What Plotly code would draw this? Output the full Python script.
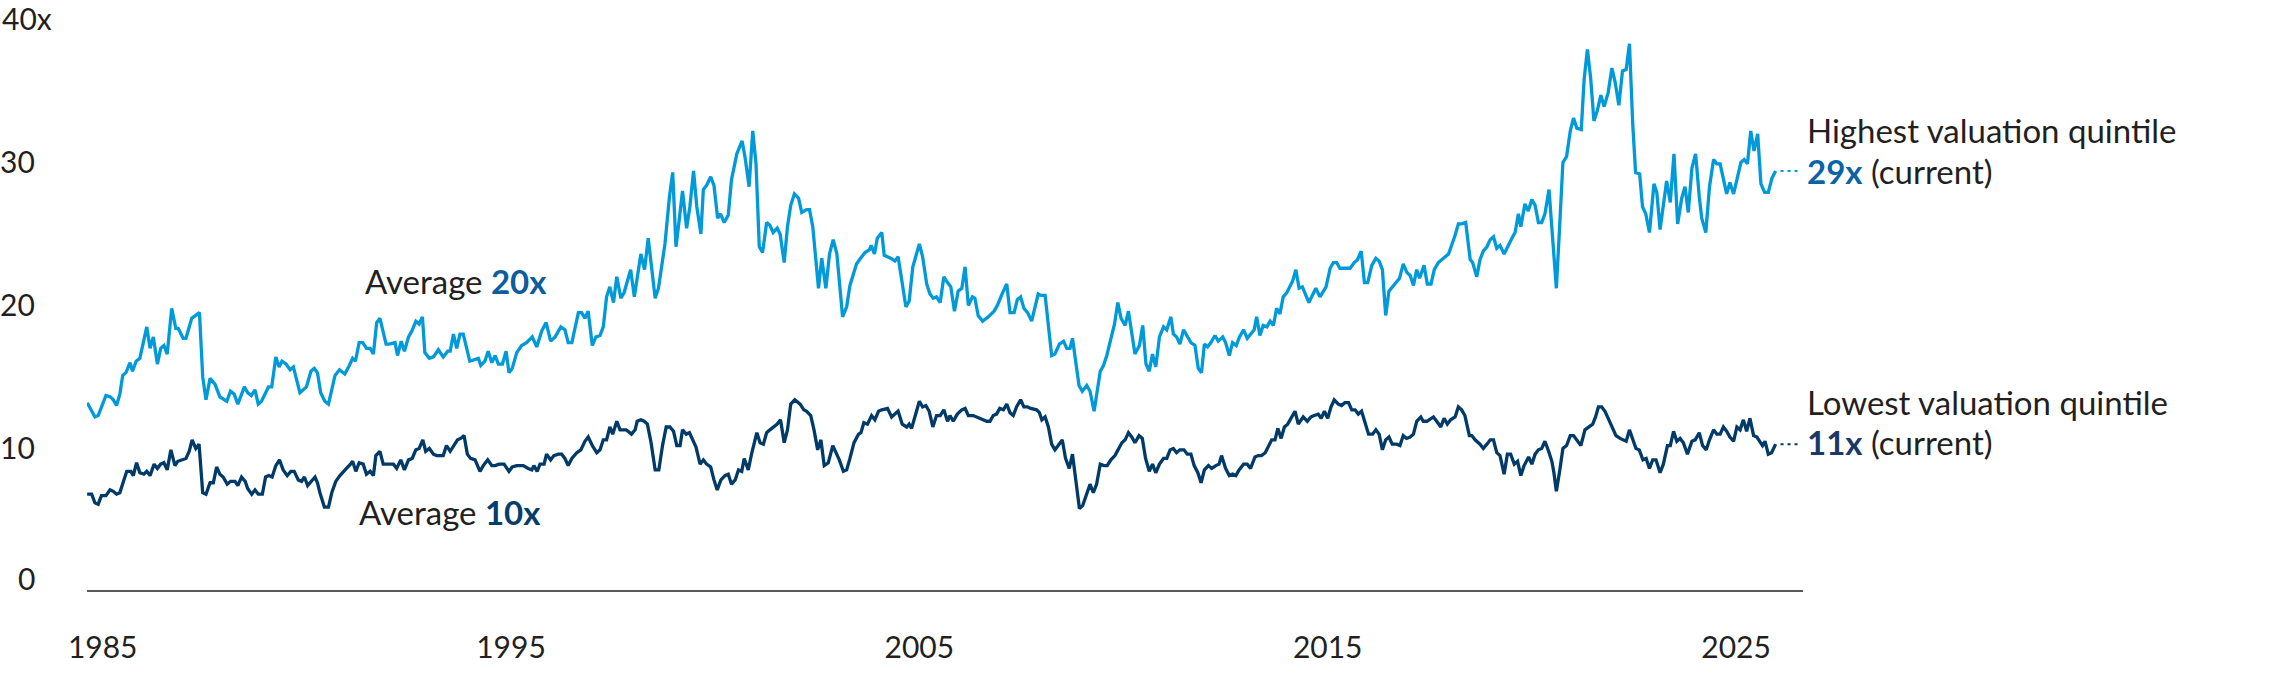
import plotly.graph_objects as go

# price/earnings of the highest valuation quintile (decimal years)
high_years = [
    1984.62, 1984.81, 1984.89, 1985.08, 1985.19, 1985.26, 1985.34, 1985.42, 1985.49, 1985.57, 1985.67, 1985.73, 1985.82, 1985.91,
    1986.08, 1986.16, 1986.24, 1986.34, 1986.42, 1986.50, 1986.58, 1986.69, 1986.79, 1986.85, 1986.97,
    1987.04, 1987.18, 1987.37, 1987.45, 1987.53, 1987.63, 1987.75, 1987.87,
    1988.04, 1988.13, 1988.22, 1988.31, 1988.47, 1988.55, 1988.64, 1988.73, 1988.81, 1988.89,
    1989.06, 1989.14, 1989.24, 1989.32, 1989.39, 1989.49, 1989.59, 1989.67, 1989.83, 1989.99,
    1990.10, 1990.18, 1990.26, 1990.34, 1990.44, 1990.53, 1990.69, 1990.80, 1990.93,
    1991.04, 1991.12, 1991.19, 1991.28, 1991.37, 1991.46, 1991.55, 1991.63, 1991.71, 1991.79, 1991.94,
    1992.02, 1992.16, 1992.22, 1992.31, 1992.39, 1992.49, 1992.57, 1992.67, 1992.75, 1992.83, 1992.89,
    1993.00, 1993.10, 1993.22, 1993.34, 1993.45, 1993.51, 1993.59, 1993.67, 1993.75, 1993.83, 1993.99,
    1994.12, 1994.20, 1994.26, 1994.36, 1994.44, 1994.53, 1994.61, 1994.69, 1994.79, 1994.88, 1994.95,
    1995.03, 1995.14, 1995.26, 1995.38, 1995.52, 1995.63, 1995.75, 1995.86, 1995.97,
    1996.08, 1996.22, 1996.32, 1996.40, 1996.49, 1996.65, 1996.73, 1996.81, 1996.89, 1996.99,
    1997.08, 1997.18, 1997.26, 1997.34, 1997.42, 1997.51, 1997.59, 1997.69, 1997.77, 1997.87, 1997.93,
    1998.02, 1998.10, 1998.18, 1998.27, 1998.36, 1998.53, 1998.61, 1998.77, 1998.88, 1998.96,
    1999.04, 1999.12, 1999.20, 1999.30, 1999.38, 1999.47, 1999.55, 1999.65, 1999.71, 1999.79, 1999.89, 1999.97,
    2000.06, 2000.13, 2000.22, 2000.32, 2000.40, 2000.53, 2000.61, 2000.66, 2000.74, 2000.83, 2000.92,
    2001.00, 2001.08, 2001.16, 2001.26, 2001.34, 2001.42, 2001.52, 2001.59, 2001.69, 2001.77, 2001.85, 2001.94,
    2002.04, 2002.12, 2002.24, 2002.31, 2002.39, 2002.53, 2002.61, 2002.71, 2002.80, 2002.89, 2002.98,
    2003.12, 2003.22, 2003.30, 2003.40, 2003.46, 2003.56, 2003.67, 2003.78, 2003.82, 2003.90, 2003.97,
    2004.08, 2004.14, 2004.30, 2004.40, 2004.48, 2004.67, 2004.75, 2004.84,
    2005.00, 2005.08, 2005.18, 2005.26, 2005.34, 2005.42, 2005.51, 2005.60, 2005.69, 2005.77, 2005.86, 2005.95,
    2006.04, 2006.12, 2006.20, 2006.30, 2006.36, 2006.44, 2006.55, 2006.69, 2006.83, 2006.91,
    2007.04, 2007.14, 2007.22, 2007.32, 2007.40, 2007.48, 2007.56, 2007.65, 2007.75, 2007.91, 2007.98,
    2008.08, 2008.24, 2008.32, 2008.43, 2008.53, 2008.61, 2008.69, 2008.75, 2008.91, 2008.99,
    2009.10, 2009.18, 2009.28, 2009.43, 2009.51, 2009.59, 2009.78, 2009.86, 2009.94,
    2010.04, 2010.12, 2010.28, 2010.39, 2010.47, 2010.55, 2010.63, 2010.71, 2010.79, 2010.88, 2010.98,
    2011.06, 2011.16, 2011.22, 2011.30, 2011.38, 2011.47, 2011.56, 2011.65, 2011.75, 2011.83, 2011.91, 2011.98,
    2012.06, 2012.14, 2012.24, 2012.32, 2012.43, 2012.50, 2012.59, 2012.67, 2012.76, 2012.84, 2012.94,
    2013.03, 2013.20, 2013.26, 2013.34, 2013.42, 2013.51, 2013.59, 2013.67, 2013.75, 2013.83, 2013.91, 2014.00,
    2014.14, 2014.22, 2014.30, 2014.38, 2014.49, 2014.54, 2014.71, 2014.81, 2014.96,
    2015.06, 2015.14, 2015.22, 2015.30, 2015.55, 2015.65, 2015.73, 2015.82, 2015.90, 2015.98,
    2016.08, 2016.18, 2016.26, 2016.34, 2016.42, 2016.50, 2016.61, 2016.76, 2016.85, 2016.94,
    2017.02, 2017.10, 2017.18, 2017.25, 2017.36, 2017.44, 2017.53, 2017.61, 2017.71, 2017.87, 2017.96,
    2018.12, 2018.20, 2018.28, 2018.38, 2018.49, 2018.55, 2018.65, 2018.73, 2018.81, 2018.90, 2018.98,
    2019.06, 2019.14, 2019.22, 2019.32, 2019.43, 2019.53, 2019.59, 2019.67, 2019.73, 2019.83, 2019.91,
    2020.00, 2020.08, 2020.16, 2020.24, 2020.32, 2020.42, 2020.51, 2020.60, 2020.68, 2020.76, 2020.85, 2020.94,
    2021.02, 2021.10, 2021.21, 2021.28, 2021.36, 2021.44, 2021.52, 2021.60, 2021.69, 2021.77, 2021.87, 2021.96,
    2022.04, 2022.13, 2022.22, 2022.31, 2022.39, 2022.47, 2022.54, 2022.64, 2022.71, 2022.79, 2022.88, 2022.99,
    2023.06, 2023.14, 2023.22, 2023.30, 2023.39, 2023.48, 2023.57, 2023.67, 2023.75, 2023.83, 2023.92,
    2024.01, 2024.10, 2024.16, 2024.26, 2024.35, 2024.45, 2024.53, 2024.61, 2024.69, 2024.77, 2024.85, 2024.94,
    2025.03, 2025.12, 2025.20, 2025.28, 2025.36, 2025.44, 2025.53, 2025.61, 2025.70, 2025.79, 2025.88, 2025.97,
]
high_pe = [
    13.1, 12.1, 12.2, 13.6, 13.5, 13.3, 12.9, 13.7, 15.0, 15.2, 15.9, 15.3, 16.0, 16.2,
    18.4, 16.9, 17.7, 15.8, 16.9, 17.1, 16.5, 19.7, 18.3, 18.3, 17.6,
    17.6, 19.0, 19.4, 14.9, 13.3, 14.8, 14.4, 13.5,
    13.2, 13.9, 13.7, 13.0, 14.2, 13.8, 13.6, 14.0, 13.0, 13.2,
    14.2, 14.2, 16.3, 15.6, 16.0, 15.8, 15.4, 15.6, 13.8, 14.2,
    15.3, 15.5, 15.2, 13.8, 13.2, 13.0, 15.0, 15.4, 15.1,
    15.7, 16.2, 16.0, 17.3, 17.3, 16.9, 16.9, 16.5, 18.7, 19.0, 17.2,
    17.2, 17.3, 16.4, 17.4, 16.7, 17.7, 18.1, 18.8, 18.6, 19.1, 16.6,
    16.2, 16.3, 16.8, 16.3, 16.7, 16.7, 17.9, 16.9, 17.9, 17.9, 16.0,
    16.1, 16.2, 15.7, 16.0, 16.7, 15.9, 16.4, 15.8, 15.8, 16.7, 15.2,
    15.5, 16.6, 17.1, 17.3, 17.7, 17.0, 18.1, 18.7, 17.4,
    17.7, 18.4, 18.2, 17.3, 17.3, 19.4, 19.4, 19.0, 19.5, 17.1,
    17.7, 17.8, 18.4, 20.5, 21.2, 20.1, 21.9, 20.4, 20.8, 21.9, 22.4,
    20.5, 22.1, 23.5, 22.4, 24.6, 20.4, 21.1, 24.2, 27.5, 29.2,
    24.0, 25.9, 27.9, 25.3, 26.8, 29.3, 26.8, 24.9, 28.0, 28.3, 28.9, 28.3,
    26.0, 26.3, 25.7, 26.2, 28.7, 30.5, 31.1, 31.4, 30.1, 28.2, 32.1,
    29.8, 24.0, 23.6, 25.7, 25.5, 25.0, 25.3, 24.9, 22.9, 25.4, 26.9, 27.7,
    27.4, 26.4, 26.6, 26.6, 25.4, 21.1, 23.2, 21.1, 23.5, 24.5, 23.5,
    19.1, 19.8, 21.3, 22.3, 22.8, 23.2, 23.6, 23.8, 24.1, 23.5, 24.6,
    25.0, 23.4, 23.2, 23.0, 23.3, 19.8, 20.2, 22.6,
    24.2, 23.3, 21.4, 20.7, 20.4, 20.5, 20.1, 21.9, 21.5, 21.2, 19.5, 20.9,
    21.1, 22.6, 19.9, 20.5, 20.4, 19.2, 18.8, 19.1, 19.5, 19.9,
    20.8, 21.4, 19.4, 19.4, 20.3, 20.5, 19.7, 19.4, 18.8, 20.7, 20.6,
    20.6, 16.4, 16.5, 17.2, 17.4, 16.9, 16.9, 17.6, 14.3, 13.9,
    14.3, 13.9, 12.5, 15.3, 15.7, 16.4, 18.6, 20.1, 19.0,
    18.5, 19.5, 16.5, 17.1, 18.5, 15.8, 15.3, 16.5, 15.6, 17.7, 18.4,
    18.2, 19.1, 17.9, 17.7, 17.2, 18.2, 17.7, 17.3, 17.1, 15.5, 15.2, 17.2,
    17.0, 17.3, 17.8, 17.4, 17.7, 17.3, 16.4, 17.3, 17.1, 17.7, 18.2,
    17.6, 18.2, 19.1, 17.8, 18.5, 18.4, 18.8, 18.5, 19.7, 19.3, 20.5, 20.8,
    21.6, 22.4, 21.1, 21.2, 20.4, 20.1, 21.1, 20.5, 21.2,
    22.5, 22.9, 22.9, 22.5, 22.5, 22.9, 23.1, 23.7, 21.5, 21.5,
    22.7, 23.2, 23.0, 22.4, 19.2, 20.9, 21.3, 21.8, 22.8, 22.2,
    22.0, 21.3, 22.4, 21.8, 22.7, 21.4, 21.4, 22.4, 22.9, 23.3, 23.5,
    24.8, 25.6, 25.6, 25.7, 23.1, 22.9, 21.9, 23.1, 23.7, 24.0, 24.5,
    24.7, 23.9, 24.1, 23.5, 24.2, 24.7, 25.0, 26.3, 25.4, 27.0, 26.5,
    27.3, 26.9, 25.7, 25.7, 26.3, 28.0, 24.7, 21.1, 25.4, 29.9, 30.3, 32.1,
    33.0, 32.3, 32.2, 35.7, 37.8, 35.8, 32.8, 33.5, 34.6, 33.8, 34.8, 36.5,
    35.5, 33.9, 36.3, 36.4, 38.2, 32.6, 29.2, 29.1, 26.8, 26.3, 25.0, 28.4,
    27.8, 25.2, 26.9, 28.6, 27.1, 30.5, 25.6, 27.4, 28.2, 26.4, 29.5,
    30.5, 27.5, 26.0, 25.0, 28.2, 30.1, 29.8, 29.8, 28.7, 27.7, 28.5, 27.7,
    28.8, 29.9, 30.1, 29.8, 32.1, 30.7, 31.9, 28.4, 27.8, 27.8, 28.8, 29.3,
]

# price/earnings of the lowest valuation quintile
low_years = [
    1984.62, 1984.73, 1984.81, 1984.89, 1984.97, 1985.08, 1985.18, 1985.26, 1985.34, 1985.42, 1985.51, 1985.59, 1985.69, 1985.75, 1985.83, 1985.91,
    1986.01, 1986.08, 1986.16, 1986.26, 1986.34, 1986.42, 1986.50, 1986.58, 1986.67, 1986.77, 1986.84, 1986.93,
    1987.04, 1987.12, 1987.19, 1987.28, 1987.36, 1987.45, 1987.53, 1987.63, 1987.71, 1987.79, 1987.87, 1987.95,
    1988.05, 1988.13, 1988.24, 1988.31, 1988.40, 1988.49, 1988.55, 1988.65, 1988.73, 1988.81, 1988.91, 1988.99,
    1989.07, 1989.15, 1989.24, 1989.33, 1989.42, 1989.52, 1989.61, 1989.69, 1989.79, 1989.87, 1989.94,
    1990.02, 1990.12, 1990.20, 1990.26, 1990.32, 1990.43, 1990.53, 1990.61, 1990.71, 1990.81, 1990.92, 1990.97,
    1991.07, 1991.12, 1991.20, 1991.28, 1991.38, 1991.46, 1991.55, 1991.63, 1991.69, 1991.79, 1991.87, 1991.99,
    1992.12, 1992.20, 1992.30, 1992.39, 1992.49, 1992.58, 1992.67, 1992.75, 1992.84, 1992.91,
    1993.00, 1993.10, 1993.18, 1993.34, 1993.42, 1993.51, 1993.60, 1993.69, 1993.77, 1993.85, 1993.93,
    1994.01, 1994.12, 1994.24, 1994.32, 1994.43, 1994.53, 1994.61, 1994.71, 1994.83, 1994.95,
    1995.03, 1995.14, 1995.30, 1995.42, 1995.51, 1995.56, 1995.64, 1995.71, 1995.81, 1995.87, 1995.97,
    1996.05, 1996.16, 1996.24, 1996.32, 1996.40, 1996.49, 1996.61, 1996.71, 1996.81, 1996.89, 1996.99,
    1997.10, 1997.18, 1997.26, 1997.34, 1997.42, 1997.49, 1997.59, 1997.67, 1997.82, 1997.95,
    1998.04, 1998.09, 1998.18, 1998.26, 1998.34, 1998.43, 1998.53, 1998.62, 1998.71, 1998.80, 1998.89, 1998.98,
    1999.06, 1999.14, 1999.20, 1999.29, 1999.37, 1999.45, 1999.53, 1999.63, 1999.71, 1999.79, 1999.89, 1999.97,
    2000.05, 2000.14, 2000.24, 2000.32, 2000.40, 2000.49, 2000.57, 2000.65, 2000.71, 2000.81, 2000.89,
    2001.02, 2001.10, 2001.18, 2001.26, 2001.34, 2001.42, 2001.52, 2001.60, 2001.69, 2001.77, 2001.85, 2001.95,
    2002.08, 2002.17, 2002.24, 2002.34, 2002.42, 2002.51, 2002.59, 2002.67, 2002.77, 2002.88, 2002.98,
    2003.04, 2003.14, 2003.22, 2003.30, 2003.40, 2003.51, 2003.57, 2003.64, 2003.73, 2003.83, 2003.91, 2004.00,
    2004.08, 2004.22, 2004.32, 2004.40, 2004.48, 2004.58, 2004.69, 2004.75, 2004.81, 2004.89,
    2005.00, 2005.08, 2005.16, 2005.24, 2005.33, 2005.42, 2005.51, 2005.60, 2005.69, 2005.75, 2005.83, 2005.93,
    2006.04, 2006.12, 2006.20, 2006.32, 2006.49, 2006.65, 2006.73, 2006.81, 2006.89, 2006.97,
    2007.06, 2007.14, 2007.22, 2007.30, 2007.38, 2007.48, 2007.56, 2007.65, 2007.73, 2007.87, 2007.94, 2008.00,
    2008.08, 2008.16, 2008.24, 2008.32, 2008.40, 2008.50, 2008.58, 2008.67, 2008.75, 2008.83, 2008.92,
    2009.00, 2009.08, 2009.18, 2009.26, 2009.34, 2009.43, 2009.52, 2009.60, 2009.69, 2009.79, 2009.87, 2009.96,
    2010.04, 2010.12, 2010.20, 2010.28, 2010.38, 2010.46, 2010.54, 2010.63, 2010.71, 2010.79, 2010.88, 2010.98,
    2011.06, 2011.14, 2011.22, 2011.30, 2011.38, 2011.48, 2011.56, 2011.65, 2011.73, 2011.82, 2011.90, 2011.98,
    2012.08, 2012.16, 2012.26, 2012.34, 2012.40, 2012.50, 2012.59, 2012.67, 2012.75, 2012.83, 2012.94,
    2013.03, 2013.11, 2013.22, 2013.30, 2013.38, 2013.47, 2013.55, 2013.63, 2013.71, 2013.78, 2013.86, 2013.94,
    2014.02, 2014.12, 2014.20, 2014.28, 2014.40, 2014.50, 2014.59, 2014.67, 2014.77, 2014.84, 2014.92,
    2015.00, 2015.08, 2015.16, 2015.26, 2015.34, 2015.42, 2015.51, 2015.59, 2015.67, 2015.75, 2015.83, 2015.91,
    2016.00, 2016.10, 2016.18, 2016.26, 2016.34, 2016.42, 2016.50, 2016.58, 2016.69, 2016.77, 2016.85, 2016.93,
    2017.02, 2017.10, 2017.18, 2017.28, 2017.34, 2017.43, 2017.59, 2017.67, 2017.77, 2017.85, 2017.93,
    2018.01, 2018.12, 2018.20, 2018.28, 2018.36, 2018.47, 2018.53, 2018.61, 2018.73, 2018.81, 2018.90, 2018.98,
    2019.06, 2019.14, 2019.22, 2019.32, 2019.40, 2019.48, 2019.57, 2019.65, 2019.73, 2019.81, 2019.92,
    2020.00, 2020.08, 2020.16, 2020.24, 2020.32, 2020.41, 2020.49, 2020.54, 2020.60, 2020.68, 2020.76, 2020.85, 2020.94,
    2021.02, 2021.10, 2021.20, 2021.30, 2021.38, 2021.49, 2021.56, 2021.63, 2021.71, 2021.79, 2021.87, 2021.99,
    2022.06, 2022.16, 2022.24, 2022.31, 2022.39, 2022.47, 2022.55, 2022.63, 2022.72, 2022.80, 2022.88, 2022.96,
    2023.04, 2023.14, 2023.22, 2023.32, 2023.39, 2023.47, 2023.55, 2023.63, 2023.71, 2023.81, 2023.92,
    2024.00, 2024.10, 2024.18, 2024.27, 2024.35, 2024.45, 2024.53, 2024.61, 2024.69, 2024.77, 2024.85, 2024.94,
    2025.02, 2025.10, 2025.18, 2025.26, 2025.34, 2025.43, 2025.51, 2025.59, 2025.65, 2025.71, 2025.79, 2025.87, 2025.97,
]
low_pe = [
    6.7, 6.7, 6.1, 6.0, 6.6, 6.6, 7.0, 6.9, 6.7, 6.8, 7.6, 8.3, 8.3, 8.0, 8.9, 8.2,
    8.1, 8.3, 8.0, 8.8, 8.5, 8.8, 8.9, 8.4, 9.8, 8.7, 9.0, 9.1,
    9.2, 9.7, 10.5, 9.9, 10.2, 6.8, 6.7, 7.5, 7.5, 8.6, 8.1, 7.9,
    7.4, 7.6, 7.6, 7.3, 7.9, 7.6, 7.1, 6.7, 7.0, 6.7, 6.7, 7.9,
    8.0, 7.9, 8.7, 9.1, 8.4, 8.0, 8.3, 8.3, 7.7, 7.6, 7.9,
    7.3, 7.6, 7.9, 7.5, 6.8, 5.8, 5.8, 6.8, 7.6, 8.0, 8.3, 8.5,
    8.8, 9.0, 8.3, 8.9, 8.8, 8.1, 8.3, 8.0, 9.4, 9.7, 8.8, 8.8,
    8.8, 8.5, 9.1, 8.4, 9.1, 9.2, 9.8, 9.9, 10.5, 9.7,
    9.9, 9.5, 9.4, 9.4, 10.1, 9.7, 10.1, 10.5, 10.6, 10.8, 9.5,
    9.2, 9.1, 8.3, 8.7, 9.1, 8.7, 8.7, 8.8, 8.8, 8.3,
    8.6, 8.7, 8.7, 8.5, 8.4, 8.7, 8.3, 8.8, 8.8, 9.5, 9.1,
    9.4, 9.5, 9.5, 9.2, 8.7, 9.2, 9.6, 9.8, 10.4, 10.7, 10.1,
    9.6, 9.8, 10.5, 10.5, 11.4, 10.9, 11.8, 11.2, 11.2, 10.9,
    11.2, 11.8, 11.9, 11.8, 11.6, 10.3, 8.4, 8.4, 10.1, 11.4, 11.4, 11.1,
    10.1, 10.1, 11.2, 10.9, 11.0, 10.5, 10.0, 8.8, 9.1, 8.8, 8.6, 7.7,
    7.0, 7.7, 8.0, 8.1, 7.4, 7.7, 8.4, 8.3, 9.2, 8.4, 9.5,
    11.0, 10.3, 10.2, 11.0, 11.2, 11.4, 11.6, 11.9, 10.3, 11.2, 13.0, 13.3,
    13.0, 12.6, 12.5, 12.2, 11.2, 9.8, 10.5, 8.7, 8.9, 10.1, 9.5,
    9.1, 8.3, 8.4, 9.2, 10.3, 10.9, 11.0, 11.7, 11.6, 12.2, 11.9, 12.5,
    12.6, 12.7, 12.1, 12.3, 12.5, 11.6, 11.4, 11.6, 11.3, 12.1,
    13.2, 12.8, 12.9, 12.5, 11.4, 12.2, 12.2, 12.6, 11.8, 12.2, 11.8, 12.3,
    12.6, 12.7, 12.2, 12.2, 12.0, 11.8, 11.8, 12.2, 12.3, 12.7,
    12.6, 13.0, 12.4, 12.2, 12.8, 13.3, 12.8, 12.8, 12.7, 12.6, 12.4, 11.9,
    12.1, 11.4, 10.2, 9.8, 10.1, 10.5, 9.2, 8.5, 9.5, 7.6, 5.7,
    5.9, 6.5, 7.4, 6.8, 7.4, 8.8, 8.7, 8.7, 9.1, 9.4, 9.8, 10.3,
    10.5, 11.0, 10.7, 10.3, 10.8, 10.6, 9.2, 8.3, 8.8, 8.2, 8.8, 9.2,
    9.2, 9.8, 9.9, 9.6, 9.8, 9.8, 9.5, 9.5, 8.7, 8.2, 7.5, 8.4,
    8.7, 8.5, 8.7, 8.8, 9.4, 8.5, 8.0, 8.1, 8.0, 8.4, 8.8,
    8.8, 8.5, 9.3, 9.4, 9.4, 9.6, 10.0, 10.5, 10.5, 11.3, 10.6, 11.4,
    11.6, 12.1, 12.5, 11.6, 12.1, 11.8, 12.1, 12.2, 12.3, 12.0, 12.5,
    12.0, 12.8, 13.3, 13.0, 12.9, 13.1, 13.1, 12.6, 12.6, 12.3, 12.5, 11.8,
    10.9, 10.9, 11.2, 10.9, 9.8, 10.5, 10.7, 10.2, 10.2, 10.1, 10.8, 10.6,
    10.7, 10.9, 11.8, 12.1, 11.8, 11.8, 12.1, 11.8, 11.4, 12.0, 11.6,
    11.9, 12.1, 12.8, 12.6, 12.2, 10.8, 10.8, 10.5, 10.2, 9.9, 10.2, 10.5,
    10.5, 9.6, 9.4, 8.1, 9.5, 9.5, 8.8, 9.0, 8.0, 8.7, 9.3,
    8.8, 9.5, 9.8, 9.9, 10.4, 9.7, 9.0, 8.2, 6.9, 8.3, 9.9, 10.1, 10.8,
    10.8, 10.5, 10.1, 11.2, 11.4, 11.6, 12.1, 12.8, 12.8, 12.5, 12.0, 11.2,
    10.8, 10.6, 10.5, 10.4, 11.2, 10.5, 9.9, 9.8, 9.1, 9.2, 8.5, 9.1,
    9.1, 8.2, 8.8, 10.1, 10.1, 11.1, 10.4, 10.6, 10.3, 9.5, 10.4,
    10.5, 11.0, 10.1, 9.8, 10.5, 11.2, 10.9, 10.9, 11.4, 11.1, 10.7, 10.4,
    11.4, 11.2, 11.9, 11.1, 12.0, 10.8, 10.7, 10.4, 10.1, 10.4, 9.5, 9.6, 10.2,
]

high_average = 20
low_average = 10
high_current = 29
low_current = 11

year_ticks = [1985, 1995, 2005, 2015, 2025]
y_ticks = [0, 10, 20, 30]

HIGH_COLOR = '#0099da'
LOW_COLOR = '#003a68'
TEXT = '#231f20'
FONT = 'Lato'
SIZE = 30      # tick labels
LABEL = 33     # annotation text

fig = go.Figure()

fig.add_trace(go.Scatter(x=high_years, y=high_pe, mode='lines',
                         line=dict(color=HIGH_COLOR, width=3.3), cliponaxis=False))
fig.add_trace(go.Scatter(x=low_years, y=low_pe, mode='lines',
                         line=dict(color=LOW_COLOR, width=3.3), cliponaxis=False))

# dotted leaders from the last reading to the labels
dot_end = 2026.55
for yrs, vals, col in [(high_years, high_pe, HIGH_COLOR), (low_years, low_pe, LOW_COLOR)]:
    fig.add_trace(go.Scatter(x=[yrs[-1] + 0.12, dot_end], y=[vals[-1], vals[-1]], mode='lines',
                             line=dict(color=col, width=2, dash='3px,4px'), cliponaxis=False))

annotations = []
# y axis labels
for v in y_ticks:
    annotations.append(dict(x=-0.029, xref='paper', y=v, yref='y', text=str(v),
                            xanchor='right', yanchor='middle', showarrow=False,
                            yshift=12 if v == 0 else 0))
annotations.append(dict(x=-0.0507, xref='paper', y=40, yref='y', text='40x',
                        xanchor='left', yanchor='middle', showarrow=False))

big = dict(family=FONT, size=LABEL, color=TEXT)
annotations.append(dict(x=1991.38, y=21.6, font=big,
                        text=f"Average <span style='color:#0b5d9e'><b>{high_average}x</b></span>",
                        xanchor='left', yanchor='middle', showarrow=False))
annotations.append(dict(x=1991.23, y=5.48, font=big,
                        text=f"Average <span style='color:#063d6c'><b>{low_average}x</b></span>",
                        xanchor='left', yanchor='middle', showarrow=False))

annotations.append(dict(x=1.0012, xref='paper', y=32.2, text='Highest valuation quintile', font=big,
                        xanchor='left', yanchor='middle', showarrow=False))
annotations.append(dict(x=1.0012, xref='paper', y=29.27, font=big,
                        text=f"<span style='color:#0b63a6'><b>{high_current}x</b></span> (current)",
                        xanchor='left', yanchor='middle', showarrow=False))
annotations.append(dict(x=1.0012, xref='paper', y=13.17, text='Lowest valuation quintile', font=big,
                        xanchor='left', yanchor='middle', showarrow=False))
annotations.append(dict(x=1.0012, xref='paper', y=10.38, font=big,
                        text=f"<span style='color:#1b3966'><b>{low_current}x</b></span> (current)",
                        xanchor='left', yanchor='middle', showarrow=False))

fig.update_layout(
    width=2293, height=692,
    margin=dict(l=87, r=490, t=18, b=102),
    paper_bgcolor='white', plot_bgcolor='white',
    showlegend=False,
    font=dict(family=FONT, size=SIZE, color=TEXT),
    annotations=annotations,
    xaxis=dict(range=[1984.616, 2026.64], showgrid=False, zeroline=False,
               showline=True, linecolor='#58595b', linewidth=2,
               tickvals=year_ticks, ticktext=[str(y) for y in year_ticks],
               ticks='', ticklabelstandoff=30,
               tickfont=dict(family=FONT, size=SIZE, color=TEXT)),
    yaxis=dict(range=[0, 40], showgrid=False, zeroline=False, showline=False,
               showticklabels=False),
)

# drop the browser's default body margin so the figure sits at the window corner
fig.write_html('out.html', config={'displayModeBar': False},
               post_script="document.body.style.margin = '0';")
